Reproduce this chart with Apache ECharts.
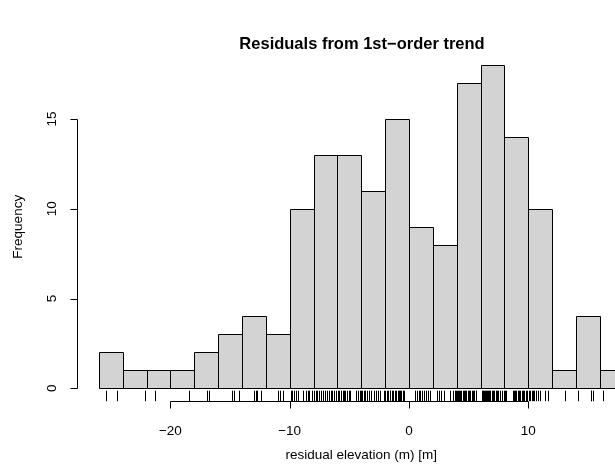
<!DOCTYPE html>
<html>
<head>
<meta charset="utf-8">
<script src="https://cdn.jsdelivr.net/npm/echarts@6/dist/echarts.min.js"></script>
<style>html,body{margin:0;padding:0;background:#fff}#c{width:615px;height:465px}</style>
</head>
<body>
<div id="c"></div>
<script>
// bin edges (left edges, width 2) and frequencies
const binStarts = [-26,-24,-22,-20,-18,-16,-14,-12,-10,-8,-6,-4,-2,0,2,4,6,8,10,12,14,16];
const binWidth = 2;
const counts = [2,1,1,1,2,3,4,3,10,13,13,11,15,9,8,17,18,14,10,1,4,1];
// rug: individual residuals (estimated from the tick marks)
const rugValues = [
  -25.37,-24.45,-22.10,-21.29,-18.44,-16.93,-16.79,-14.86,-14.67,-14.22,
  -12.97,-12.85,-12.71,-12.43,-11.00,-10.81,-10.59,
  -9.92,-9.81,-9.64,-9.47,-9.30,-8.85,-8.66,-8.50,-8.37,-8.12,
  -7.96,-7.82,-7.69,-7.50,-7.38,-7.17,-7.02,-6.88,-6.70,-6.56,-6.41,-6.29,-6.12,
  -5.96,-5.84,-5.71,-5.57,-5.44,-5.33,-5.20,-5.05,-4.97,-4.41,-4.27,-4.13,-4.04,
  -3.93,-3.80,-3.71,-3.52,-3.38,-3.20,-2.95,-2.80,-2.62,-2.45,-2.12,
  -1.97,-1.85,-1.74,-1.62,-1.55,-1.43,-1.30,-1.21,-1.08,-0.95,-0.86,-0.74,-0.63,-0.52,-0.41,
  0.52,0.68,0.81,0.95,1.10,1.27,1.43,1.58,1.76,
  2.31,2.48,2.66,2.90,3.42,3.70,3.85,3.96,
  4.05,4.13,4.22,4.31,4.40,4.52,4.60,4.71,4.80,4.93,5.02,5.14,5.25,5.36,5.48,5.58,5.66,
  6.12,6.21,6.30,6.38,6.47,6.55,6.66,6.74,6.83,6.92,7.04,7.15,7.27,7.38,7.50,7.64,7.79,7.93,
  8.02,8.11,8.74,8.83,8.92,9.00,9.10,9.20,9.33,9.45,9.56,9.68,9.80,9.91,
  10.05,10.17,10.28,10.40,10.52,10.65,10.80,10.95,11.40,11.63,
  13.10,14.14,15.23,15.28,15.40,16.29
];
const xTicks = [-20,-10,0,10];
const yTicks = [0,5,10,15];
const titleText = 'Residuals from 1st\u2212order trend';
const xTitle = 'residual elevation (m) [m]';
const yTitle = 'Frequency';

const X_MIN = -27.76, X_MAX = 19.76, Y_MIN = -0.72, Y_MAX = 18.72;
const FONT = '"Liberation Sans", Arial, Helvetica, sans-serif';
const FS = 13.5;
const fmt = v => String(v).replace('-', '\u2212');

const histData = binStarts.map((s, i) => [s, s + binWidth, counts[i]]);
const BLACK = {stroke: '#000', lineWidth: 1};

const chart = echarts.init(document.getElementById('c'), null, {renderer: 'canvas'});
chart.setOption({
  animation: false,
  backgroundColor: '#ffffff',
  title: {
    text: titleText, left: 357, top: 31, textAlign: 'center',
    textStyle: {fontFamily: FONT, fontSize: 16.5, fontWeight: 'bold', color: '#000'}
  },
  grid: {left: 77.8, top: 52.3, width: 566.9, height: 348.9, containLabel: false, outerBoundsMode: 'none'},
  xAxis: {
    type: 'value', min: X_MIN, max: X_MAX,
    splitLine: {show: false},
    axisLine: {show: false},
    axisTick: {show: false},
    axisLabel: {show: true, customValues: xTicks, formatter: fmt, margin: 23, fontFamily: FONT, fontSize: FS, color: '#000'},
    name: xTitle, nameLocation: 'middle', nameGap: 47,
    nameTextStyle: {fontFamily: FONT, fontSize: FS, color: '#000'}
  },
  yAxis: {
    type: 'value', min: Y_MIN, max: Y_MAX,
    splitLine: {show: false},
    axisLine: {show: false},
    axisTick: {show: false},
    axisLabel: {show: true, customValues: yTicks, rotate: 90, margin: 18.5, fontFamily: FONT, fontSize: FS, color: '#000'},
    name: yTitle, nameLocation: 'middle', nameGap: 53, nameRotate: 90,
    nameTextStyle: {fontFamily: FONT, fontSize: FS, color: '#000'}
  },
  series: [
    {
      type: 'custom', name: 'hist', clip: false,
      data: histData,
      renderItem: function (params, api) {
        const p0 = api.coord([api.value(0), api.value(2)]);
        const p1 = api.coord([api.value(1), 0]);
        return {
          type: 'rect',
          shape: {x: Math.round(p0[0]) + 0.5, y: Math.round(p0[1]) + 0.5, width: Math.round(p1[0]) - Math.round(p0[0]), height: Math.round(p1[1]) - Math.round(p0[1])},
          style: {fill: '#d3d3d3', stroke: '#000', lineWidth: 1}
        };
      }
    },
    {
      type: 'custom', name: 'rug', clip: false,
      data: rugValues.map(v => [v]),
      renderItem: function (params, api) {
        const p = api.coord([api.value(0), Y_MIN]);
        const x = Math.round(p[0]) + 0.5;
        return {type: 'line', shape: {x1: x, y1: p[1], x2: x, y2: p[1] - 10.5}, style: BLACK};
      }
    },
    {
      type: 'custom', name: 'xaxisline', clip: false,
      data: [[xTicks[0], xTicks[xTicks.length - 1]]],
      renderItem: function (params, api) {
        const a = api.coord([api.value(0), Y_MIN]);
        const b = api.coord([api.value(1), Y_MIN]);
        const y = Math.round(a[1]) + 0.5;
        return {type: 'line', shape: {x1: Math.round(a[0]) + 0.5, y1: y, x2: Math.round(b[0]) + 0.5, y2: y}, style: BLACK};
      }
    },
    {
      type: 'custom', name: 'xticks', clip: false,
      data: xTicks.map(v => [v]),
      renderItem: function (params, api) {
        const a = api.coord([api.value(0), Y_MIN]);
        const x = Math.round(a[0]) + 0.5, y = Math.round(a[1]) + 0.5;
        return {type: 'line', shape: {x1: x, y1: y, x2: x, y2: y + 7}, style: BLACK};
      }
    },
    {
      type: 'custom', name: 'yaxisline', clip: false,
      data: [[yTicks[0], yTicks[yTicks.length - 1]]],
      renderItem: function (params, api) {
        const a = api.coord([X_MIN, api.value(0)]);
        const b = api.coord([X_MIN, api.value(1)]);
        const x = Math.round(a[0]) - 0.5;
        return {type: 'line', shape: {x1: x, y1: Math.round(a[1]) + 0.5, x2: x, y2: Math.round(b[1]) + 0.5}, style: BLACK};
      }
    },
    {
      type: 'custom', name: 'yticks', clip: false,
      data: yTicks.map(v => [v]),
      renderItem: function (params, api) {
        const a = api.coord([X_MIN, api.value(0)]);
        const x = Math.round(a[0]) - 0.5, y = Math.round(a[1]) + 0.5;
        return {type: 'line', shape: {x1: x, y1: y, x2: x - 7, y2: y}, style: BLACK};
      }
    }
  ]
});
</script>
</body>
</html>
